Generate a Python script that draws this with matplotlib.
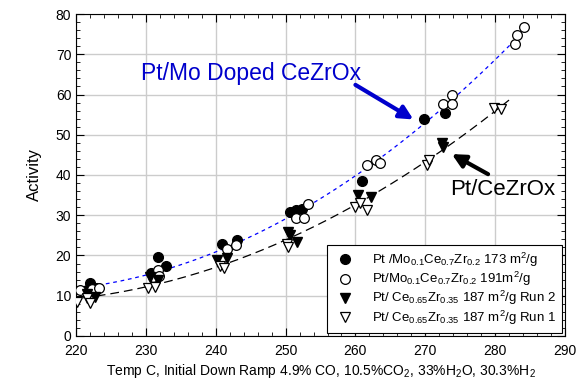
import numpy as np
import matplotlib.pyplot as plt
from matplotlib.ticker import MultipleLocator

plt.rcParams['font.family'] = ['Liberation Sans', 'DejaVu Sans']
plt.rcParams['mathtext.default'] = 'regular'

# Pt /Mo0.1Ce0.7Zr0.2 173 m2/g (filled circles)
mo173_x = [221.5, 222.0, 223.0, 230.7, 231.7, 232.9, 240.9, 243.0, 250.6, 251.5, 252.3, 260.9, 269.8, 272.8]
mo173_y = [11.5, 13.2, 12.0, 15.6, 19.7, 17.4, 22.9, 23.9, 30.8, 31.3, 31.6, 38.5, 53.9, 55.3]

# Pt/Mo0.1Ce0.7Zr0.2 191 m2/g (open circles)
mo191_x = [220.6, 222.3, 223.3, 231.0, 231.7, 231.9, 241.6, 242.9, 251.5, 252.6, 253.2,
           261.6, 263.0, 263.5, 272.5, 273.8, 273.9, 282.8, 283.1, 284.1]
mo191_y = [11.4, 11.6, 12.0, 14.7, 16.4, 14.9, 21.6, 22.6, 29.3, 29.3, 32.8,
           42.5, 43.7, 43.0, 57.6, 59.9, 57.6, 72.5, 74.8, 76.8]

# Pt/ Ce0.65Zr0.35 Run 2 (filled triangles)
run2_x = [221.5, 222.7, 230.6, 231.7, 240.2, 241.6, 250.3, 250.6, 251.7, 260.3, 262.3, 272.4, 272.5]
run2_y = [10.3, 9.7, 14.6, 14.0, 18.9, 19.3, 25.8, 25.1, 23.4, 35.0, 34.6, 47.9, 47.0]

# Pt/ Ce0.65Zr0.35 Run 1 (open triangles)
run1_x = [220.1, 221.5, 222.0, 230.3, 231.3, 240.6, 241.2, 250.2, 250.3, 259.9, 260.6, 261.6,
          270.2, 270.6, 279.9, 280.9]
run1_y = [8.4, 9.5, 8.2, 11.9, 12.2, 17.4, 16.9, 22.8, 22.2, 32.1, 33.0, 31.3,
          42.5, 43.7, 56.6, 56.3]

labels = [r'Pt /Mo$_{0.1}$Ce$_{0.7}$Zr$_{0.2}$ 173 m$^2$/g',
          r'Pt/Mo$_{0.1}$Ce$_{0.7}$Zr$_{0.2}$ 191m$^2$/g',
          r'Pt/ Ce$_{0.65}$Zr$_{0.35}$ 187 m$^2$/g Run 2',
          r'Pt/ Ce$_{0.65}$Zr$_{0.35}$ 187 m$^2$/g Run 1']

fig = plt.figure(figsize=(5.77, 3.80), dpi=100)
ax = fig.add_axes([0.132, 0.116, 0.847, 0.847])

# quadratic fits through each catalyst family
mo_x = np.array(mo173_x + mo191_x)
mo_y = np.array(mo173_y + mo191_y)
p_mo = np.polyfit(mo_x, mo_y, 2)
xf = np.linspace(220, 284.5, 200)
ax.plot(xf, np.polyval(p_mo, xf), color='#0000ff', linestyle=(0, (3, 3)), linewidth=0.9, zorder=2)

ce_x = np.array(run2_x + run1_x)
ce_y = np.array(run2_y + run1_y)
p_ce = np.polyfit(ce_x, ce_y, 2)
xf2 = np.linspace(221, 282, 200)
ax.plot(xf2, np.polyval(p_ce, xf2), color='black', linestyle=(0, (7, 4)), linewidth=0.9, zorder=2)

ms = 7
ax.plot(mo173_x, mo173_y, 'o', ms=ms, mfc='black', mec='black', ls='none', label=labels[0], zorder=3)
ax.plot(mo191_x, mo191_y, 'o', ms=ms, mfc='white', mec='black', mew=0.9, ls='none', label=labels[1], zorder=3)
ax.plot(run2_x, run2_y, 'v', ms=ms, mfc='black', mec='black', ls='none', label=labels[2], zorder=3)
ax.plot(run1_x, run1_y, 'v', ms=ms, mfc='white', mec='black', mew=0.9, ls='none', label=labels[3], zorder=3)

ax.set_xlim(220, 290)
ax.set_ylim(0, 80)
ax.xaxis.set_major_locator(MultipleLocator(10))
ax.xaxis.set_minor_locator(MultipleLocator(2))
ax.yaxis.set_major_locator(MultipleLocator(10))
ax.yaxis.set_minor_locator(MultipleLocator(2))
ax.tick_params(which='both', direction='in', top=True, right=True, labelsize=10)
ax.tick_params(which='major', length=6)
ax.tick_params(which='minor', length=3)
ax.tick_params(axis='x', pad=6)
ax.grid(True, which='major', color='#cccccc', linewidth=1)
ax.set_axisbelow(True)

ax.set_xlabel(r'Temp C, Initial Down Ramp 4.9% CO, 10.5%CO$_2$, 33%H$_2$O, 30.3%H$_2$', fontsize=10, labelpad=3)
ax.set_ylabel('Activity', fontsize=12, labelpad=10)

ax.text(229.3, 65.3, 'Pt/Mo Doped CeZrOx', color='#0000cc', fontsize=16.5, va='center')
ax.annotate('', xy=(268.3, 53.8), xytext=(260, 62.4),
            arrowprops=dict(arrowstyle='-|>,head_length=0.8,head_width=0.4', color='#0000cc', lw=3,
                            shrinkA=0, shrinkB=0))
ax.text(273.6, 36.3, 'Pt/CeZrOx', color='black', fontsize=16, va='center')
ax.annotate('', xy=(273.8, 45.2), xytext=(279, 40.2),
            arrowprops=dict(arrowstyle='-|>,head_length=0.8,head_width=0.4', color='black', lw=3,
                            shrinkA=0, shrinkB=0))

leg = ax.legend(loc='lower right', fontsize=9.5, fancybox=False, framealpha=1,
                edgecolor='black', handletextpad=1.2, labelspacing=0.08,
                borderaxespad=0.25, handlelength=1.7, borderpad=0.45)
leg.get_frame().set_linewidth(0.8)

plt.savefig('out.png', dpi=100)
